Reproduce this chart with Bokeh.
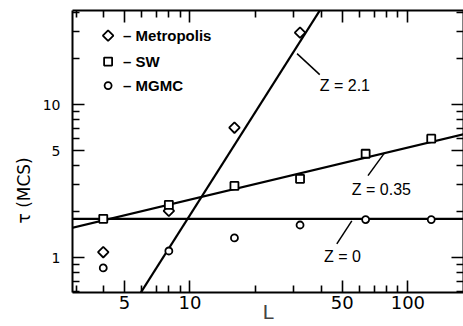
import numpy as np
from bokeh.plotting import figure
from bokeh.models import (LogAxis, FixedTicker, Label, Range1d, PrintfTickFormatter, Title)
from bokeh.embed import file_html
from bokeh.resources import INLINE

# ---------------- data ----------------
L_metro = [4, 8, 16, 32]
tau_metro = [1.09, 2.03, 7.07, 29.5]

L_sw = [4, 8, 16, 32, 64, 128]
tau_sw = [1.80, 2.22, 2.95, 3.28, 4.78, 6.0]

L_mgmc = [4, 8, 16, 32, 64, 128]
tau_mgmc = [0.86, 1.11, 1.35, 1.64, 1.78, 1.78]

# fitted lines  tau = A * L**z  (as drawn)
fit_labels = ["Z = 2.1", "Z = 0.35", "Z = 0"]
fit_amp = [0.01095, 1.096, 1.80]
fit_exp = [2.24, 0.34, 0.0]
fit_span = [2.0, 250.0]

# annotation text anchors (L, tau) and leader segments
ann_x = [39.4, 55.3, 41.2]
ann_y = [13.3, 2.78, 1.015]
lead_x0 = [31.0, 78.3, 55.3]
lead_y0 = [21.5, 4.86, 1.745]
lead_x1 = [39.4, 65.6, 47.2]
lead_y1 = [15.7, 3.44, 1.235]

# legend (key) placement, in data units
legend_labels = ["\u2013 Metropolis", "\u2013 SW", "\u2013 MGMC"]
legend_key_L = 4.21
legend_text_L = 4.93
legend_tau = [28.2, 19.1, 13.3]

x_major = [5, 10, 50, 100]
x_minor = [3, 4, 6, 7, 8, 9, 20, 30, 40, 60, 70, 80, 90]
y_major = [1, 5, 10]
y_minor = [0.6, 0.7, 0.8, 0.9, 2, 3, 4, 6, 7, 8, 9, 20, 30, 40]

x_title = "L"
y_title = "\u03c4 (MCS)"

# ---------------- figure ----------------
p = figure(width=463, height=326, x_axis_type="log", y_axis_type="log",
           x_range=Range1d(2.89, 180), y_range=Range1d(0.595, 41.1),
           output_backend="svg", toolbar_location=None,
           min_border_left=72, min_border_right=0, min_border_top=10,
           min_border_bottom=34)
p.grid.visible = False
p.outline_line_color = None
p.background_fill_color = "white"
p.border_fill_color = "white"

TICK_FONT = "DejaVu Sans"


def style_axis(ax, major, minor, labels=True, size="14px", standoff=3):
    ax.ticker = FixedTicker(ticks=major, minor_ticks=minor)
    ax.formatter = PrintfTickFormatter(format="%d")
    ax.axis_line_color = "black"
    ax.axis_line_width = 2
    ax.major_tick_in = 12
    ax.major_tick_out = 0
    ax.minor_tick_in = 7
    ax.minor_tick_out = 0
    ax.major_tick_line_width = 1.6
    ax.minor_tick_line_width = 1.6
    ax.major_tick_line_color = "black"
    ax.minor_tick_line_color = "black"
    if labels:
        ax.major_label_text_font = TICK_FONT
        ax.major_label_text_font_size = size
        ax.major_label_text_color = "black"
        ax.major_label_standoff = standoff
    else:
        ax.major_label_text_font_size = "0px"
        ax.major_label_standoff = 0


style_axis(p.xaxis[0], x_major, x_minor, True, "18px", 3)
style_axis(p.yaxis[0], y_major, y_minor, True, "14px", 12)

p.xaxis[0].axis_label = x_title
p.xaxis[0].axis_label_text_font = TICK_FONT
p.xaxis[0].axis_label_text_font_size = "20px"
p.xaxis[0].axis_label_text_font_style = "normal"
p.xaxis[0].axis_label_standoff = -12

top = LogAxis()
style_axis(top, x_major, x_minor, False)
p.add_layout(top, "above")
right = LogAxis()
style_axis(right, y_major, y_minor, False)
p.add_layout(right, "right")

p.add_layout(Title(text=y_title, align="left", offset=69, standoff=12,
                   text_font=TICK_FONT, text_font_size="17px",
                   text_font_style="normal", text_color="black"), "left")

# ---------------- fit lines ----------------
Lf = np.array(fit_span)
for A, z in zip(fit_amp, fit_exp):
    p.line(Lf, A * Lf ** z, line_color="black", line_width=2.2)

# leader lines
p.segment(lead_x0, lead_y0, lead_x1, lead_y1, line_color="black", line_width=1.5)

# ---------------- data points ----------------
marker_styles = [dict(marker="square", angle=np.pi / 4, size=7.5),
                 dict(marker="square", angle=0.0, size=8),
                 dict(marker="circle", angle=0.0, size=7)]
series = [(L_metro, tau_metro), (L_sw, tau_sw), (L_mgmc, tau_mgmc)]
for (xs, ys), st in zip(series, marker_styles):
    p.scatter(xs, ys, fill_color="white", line_color="black", line_width=1.8, **st)

# ---------------- legend (key drawn through the scales) ----------------
for st, t, lab in zip(marker_styles, legend_tau, legend_labels):
    p.scatter([legend_key_L], [t], fill_color="white", line_color="black",
              line_width=1.8, **st)
    p.add_layout(Label(x=legend_text_L, y=t, text=lab,
                       text_font="Liberation Sans", text_font_style="bold",
                       text_font_size="15px", text_align="left",
                       text_baseline="middle", text_color="black"))

# ---------------- annotations ----------------
for txt, x, y in zip(fit_labels, ann_x, ann_y):
    p.add_layout(Label(x=x, y=y, text=txt, text_font="Liberation Sans",
                       text_font_size="16px", text_align="left",
                       text_baseline="middle", text_color="black"))

open("out.html", "w").write(file_html(p, INLINE))
